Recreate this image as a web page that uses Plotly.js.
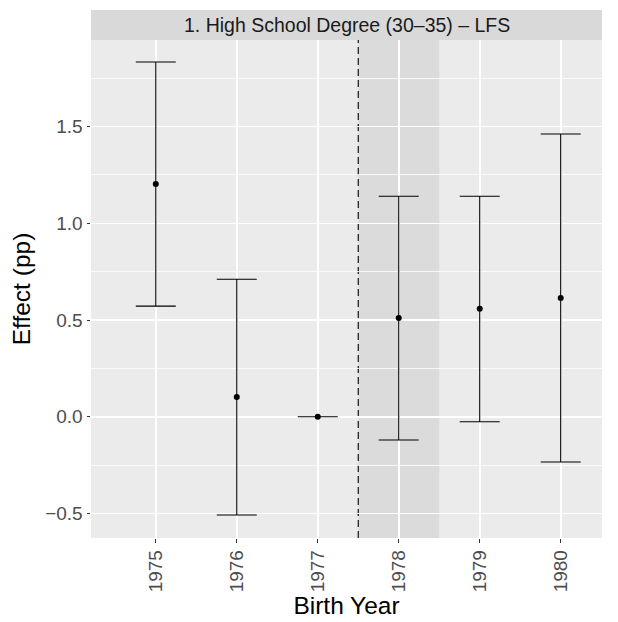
<!DOCTYPE html>
<html>
<head>
<meta charset="utf-8">
<script src="https://cdn.plot.ly/plotly-3.0.1.min.js"></script>
<style>html,body{margin:0;padding:0;background:#fff;}#chart{width:618px;height:622px;}</style>
</head>
<body>
<div id="chart"></div>
<script>
const years = [1975, 1976, 1977, 1978, 1979, 1980];
const effect = [1.203, 0.102, 0.0, 0.510, 0.558, 0.614];
const ciLow = [0.572, -0.508, 0.0, -0.120, -0.026, -0.234];
const ciHigh = [1.834, 0.711, 0.0, 1.140, 1.140, 1.462];
const yTicks = [-0.5, 0.0, 0.5, 1.0, 1.5];
const xTickLabels = ['1975', '1976', '1977', '1978', '1979', '1980'];
const cutoff = 1977.5;
const shadeFrom = 1977.5, shadeTo = 1978.5;
const stripTitle = '1. High School Degree (30\u201335) \u2013 LFS';

const trace = {
  x: years,
  y: effect,
  type: 'scatter',
  mode: 'markers',
  marker: {color: '#000', size: 6},
  error_y: {
    type: 'data',
    symmetric: false,
    array: ciHigh.map((h, i) => h - effect[i]),
    arrayminus: ciLow.map((l, i) => effect[i] - l),
    color: '#000',
    thickness: 1.1,
    width: 20
  },
  hoverinfo: 'x+y',
  showlegend: false
};

const font = 'Liberation Sans, Arial, sans-serif';
const layout = {
  width: 618, height: 622,
  margin: {l: 91, r: 16, t: 40, b: 84},
  paper_bgcolor: '#fff',
  plot_bgcolor: '#EBEBEB',
  font: {family: font},
  xaxis: {
    range: [1974.2, 1980.51],
    tickvals: years,
    ticktext: xTickLabels,
    tickangle: -90,
    ticks: 'outside', ticklen: 3.5, tickwidth: 1, tickcolor: '#333',
    tickfont: {size: 19, color: '#4D4D4D', family: font},
    showgrid: true, gridcolor: '#fff', gridwidth: 1.6,
    zeroline: false, showline: false,
    title: {text: 'Birth Year', font: {size: 24.5, color: '#000', family: font}, standoff: 4}
  },
  yaxis: {
    range: [-0.627, 1.948],
    tickvals: yTicks,
    ticktext: yTicks.map(v => (v < 0 ? '\u2212' : '') + Math.abs(v).toFixed(1)),
    ticks: 'outside', ticklen: 3.5, tickwidth: 1, tickcolor: '#333',
    tickfont: {size: 19, color: '#4D4D4D', family: font},
    showgrid: true, gridcolor: '#fff', gridwidth: 1.6,
    minor: {dtick: 0.25, tick0: 0.25, showgrid: true, gridcolor: '#fff', gridwidth: 0.8, ticks: ''},
    zeroline: false, showline: false,
    title: {text: 'Effect (pp)', font: {size: 24.5, color: '#000', family: font}, standoff: 7}
  },
  shapes: [
    {type: 'rect', xref: 'x', yref: 'paper', x0: shadeFrom, x1: shadeTo, y0: 0, y1: 1,
     fillcolor: 'rgba(0,0,0,0.065)', line: {width: 0}, layer: 'between'},
    {type: 'line', xref: 'paper', yref: 'y', x0: 0, x1: 1, y0: 0, y1: 0,
     line: {color: '#000', width: 1.1}, layer: 'between'},
    {type: 'line', xref: 'x', yref: 'paper', x0: cutoff, x1: cutoff, y0: 0, y1: 1,
     line: {color: '#000', width: 1.1, dash: '7px,4px'}, layer: 'between'},
    {type: 'rect', xref: 'paper', yref: 'paper', x0: 0, x1: 1, y0: 1, y1: 1 + 30/498,
     fillcolor: '#D9D9D9', line: {width: 0}, layer: 'above'}
  ],
  annotations: [
    {text: stripTitle, xref: 'paper', yref: 'paper', x: 0.5, y: 1 + 15/498,
     xanchor: 'center', yanchor: 'middle', showarrow: false,
     font: {size: 19.5, color: '#1A1A1A', family: font}}
  ]
};

Plotly.newPlot('chart', [trace], layout, {staticPlot: true, displayModeBar: false});
</script>
</body>
</html>
